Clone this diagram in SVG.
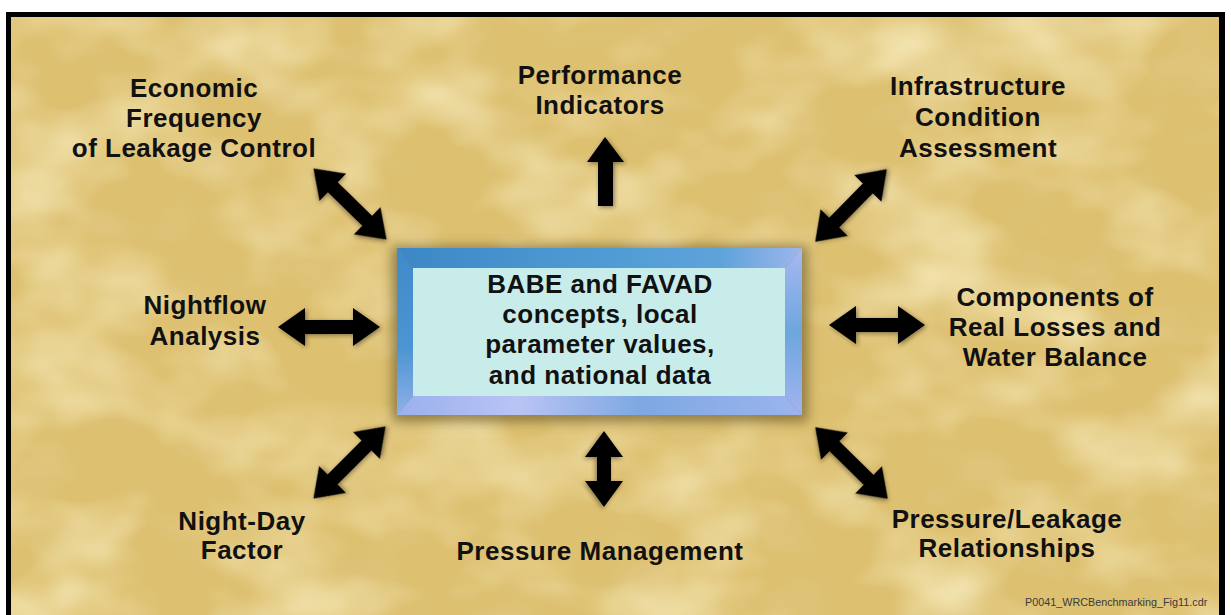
<svg xmlns="http://www.w3.org/2000/svg" xmlns:xlink="http://www.w3.org/1999/xlink" width="1231" height="615" viewBox="0 0 1231 615">
  <style>
    .lbl { font-family: "Liberation Sans", Arial, sans-serif; font-weight: bold; font-size: 26px; letter-spacing: 0.5px; fill: #111; text-anchor: middle; }
    .foot { font-family: "Liberation Sans", Arial, sans-serif; font-size: 10.8px; fill: #3a3a3a; }
    .arrow { fill: #000; filter: url(#ashadow); }
  </style>
  <defs>
    <filter id="tex" x="0" y="0" width="100%" height="100%">
      <feTurbulence type="fractalNoise" baseFrequency="0.008 0.012" numOctaves="3" seed="7"/>
      <feColorMatrix type="matrix" values="0 0 0 0 1  0 0 0 0 0.94  0 0 0 0 0.66  1.4 0 0 0 -0.6"/>
    </filter>
    <filter id="tex2" x="0" y="0" width="100%" height="100%">
      <feTurbulence type="fractalNoise" baseFrequency="0.012 0.02" numOctaves="2" seed="19"/>
      <feColorMatrix type="matrix" values="0 0 0 0 0.78  0 0 0 0 0.64  0 0 0 0 0.32  0.9 0 0 0 -0.45"/>
    </filter>
    <filter id="ashadow" x="-30%" y="-30%" width="160%" height="160%">
      <feDropShadow dx="1.5" dy="1.5" stdDeviation="2" flood-color="#2a2010" flood-opacity="0.5"/>
    </filter>
    <filter id="boxblur" x="-20%" y="-30%" width="140%" height="160%">
      <feGaussianBlur stdDeviation="6"/>
    </filter>
    <linearGradient id="gTop" x1="0" y1="0" x2="1" y2="0">
      <stop offset="0" stop-color="#3C88C6"/>
      <stop offset="0.5" stop-color="#4E9BD4"/>
      <stop offset="0.8" stop-color="#5FA3DA"/>
      <stop offset="1" stop-color="#9EB6EC"/>
    </linearGradient>
    <linearGradient id="gLeft" x1="0" y1="0" x2="0" y2="1">
      <stop offset="0" stop-color="#3F8ACA"/>
      <stop offset="0.6" stop-color="#4C95D2"/>
      <stop offset="1" stop-color="#8FB0E8"/>
    </linearGradient>
    <linearGradient id="gRight" x1="0" y1="0" x2="0" y2="1">
      <stop offset="0" stop-color="#A8B8F0"/>
      <stop offset="0.5" stop-color="#6EA6DE"/>
      <stop offset="1" stop-color="#A2B4F0"/>
    </linearGradient>
    <linearGradient id="gBot" x1="0" y1="0" x2="1" y2="0">
      <stop offset="0" stop-color="#9AB0EE"/>
      <stop offset="0.3" stop-color="#B9C4F4"/>
      <stop offset="0.6" stop-color="#7EA8E2"/>
      <stop offset="1" stop-color="#9CB4EE"/>
    </linearGradient>
    <path id="dbl51" d="M-51,0 L-24,-19 L-24,-7 L24,-7 L24,-19 L51,0 L24,19 L24,7 L-24,7 L-24,19 Z"/>
    <path id="dbl48" d="M-48,0 L-21,-19 L-21,-7 L21,-7 L21,-19 L48,0 L21,19 L21,7 L-21,7 L-21,19 Z"/>
    <path id="dbl38" d="M-38,0 L-12,-19 L-12,-7 L12,-7 L12,-19 L38,0 L12,19 L12,7 L-12,7 L-12,19 Z"/>
  </defs>

  <!-- background and frame -->
  <rect x="0" y="0" width="1231" height="615" fill="#fff"/>
  <rect x="11" y="17" width="1208" height="598" fill="#DDC070"/>
  <rect x="11" y="17" width="1208" height="598" filter="url(#tex2)"/>
  <rect x="11" y="17" width="1208" height="598" filter="url(#tex)"/>
  <rect x="6" y="12" width="1219" height="5" fill="#000"/>
  <rect x="6" y="12" width="5" height="603" fill="#000"/>
  <rect x="1219" y="12" width="6" height="603" fill="#000"/>

  <!-- connectors -->
  <g id="connectors">
    <path class="arrow" d="M605,137 L624,162 L613,162 L613,206 L598,206 L598,162 L587,162 Z"/>
    <use class="arrow" xlink:href="#dbl51" transform="translate(350,204) rotate(44.2)"/>
    <use class="arrow" xlink:href="#dbl51" transform="translate(851,205.5) rotate(-45.4)"/>
    <use class="arrow" xlink:href="#dbl51" transform="translate(329,327)"/>
    <use class="arrow" xlink:href="#dbl48" transform="translate(877,325)"/>
    <use class="arrow" xlink:href="#dbl51" transform="translate(349.5,462.5) rotate(-45)"/>
    <use class="arrow" xlink:href="#dbl38" transform="translate(604,469) rotate(90)"/>
    <use class="arrow" xlink:href="#dbl51" transform="translate(851.5,463) rotate(44.6)"/>
  </g>

  <!-- center node -->
  <g id="center">
    <rect x="392" y="246" width="416" height="176" fill="#4a3a18" opacity="0.5" filter="url(#boxblur)"/>
    <polygon points="397,248 802,248 785,268 413,268" fill="url(#gTop)"/>
    <polygon points="397,248 413,268 413,396 397,415" fill="url(#gLeft)"/>
    <polygon points="802,248 802,415 785,396 785,268" fill="url(#gRight)"/>
    <polygon points="397,415 413,396 785,396 802,415" fill="url(#gBot)"/>
    <rect x="413" y="268" width="372" height="128" fill="#C8ECEA"/>
    <text class="lbl" x="600" y="293">BABE and FAVAD</text>
    <text class="lbl" x="600" y="323">concepts, local</text>
    <text class="lbl" x="600" y="353">parameter values,</text>
    <text class="lbl" x="600" y="384">and national data</text>
  </g>

  <g id="economic">
    <text class="lbl" x="194" y="97">Economic</text>
    <text class="lbl" x="194" y="127">Frequency</text>
    <text class="lbl" x="194" y="157">of Leakage Control</text>
  </g>
  <g id="performance">
    <text class="lbl" x="600" y="84">Performance</text>
    <text class="lbl" x="600" y="114">Indicators</text>
  </g>
  <g id="infrastructure">
    <text class="lbl" x="978" y="95">Infrastructure</text>
    <text class="lbl" x="978" y="126">Condition</text>
    <text class="lbl" x="978" y="157">Assessment</text>
  </g>
  <g id="nightflow">
    <text class="lbl" x="205" y="314">Nightflow</text>
    <text class="lbl" x="205" y="345">Analysis</text>
  </g>
  <g id="components">
    <text class="lbl" x="1055" y="306">Components of</text>
    <text class="lbl" x="1055" y="336">Real Losses and</text>
    <text class="lbl" x="1055" y="366">Water Balance</text>
  </g>
  <g id="nightday">
    <text class="lbl" x="242" y="530">Night-Day</text>
    <text class="lbl" x="242" y="559">Factor</text>
  </g>
  <g id="pressure-mgmt">
    <text class="lbl" x="600" y="560">Pressure Management</text>
  </g>
  <g id="pressure-leakage">
    <text class="lbl" x="1007" y="528">Pressure/Leakage</text>
    <text class="lbl" x="1007" y="557">Relationships</text>
  </g>

  <text class="foot" x="1025" y="606">P0041_WRCBenchmarking_Fig11.cdr</text>
</svg>
